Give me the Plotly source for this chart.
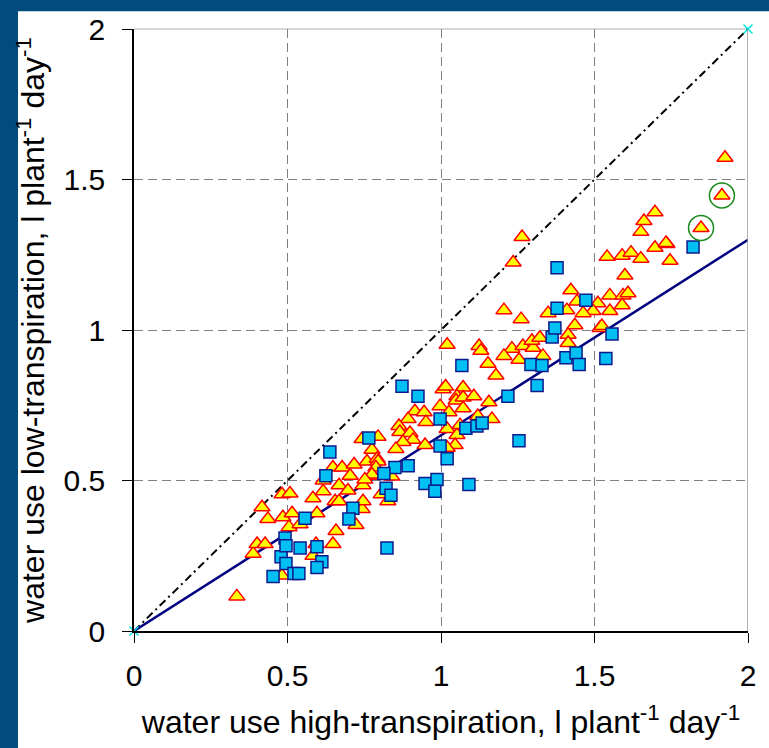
import plotly.graph_objects as go

# ---- data ----
tri_x = [0.335, 0.388, 0.401, 0.427, 0.417, 0.436, 0.482, 0.508, 0.485, 0.515, 0.505, 0.541, 0.482,
         0.583, 0.596, 0.593, 0.583, 0.616, 0.616, 0.648, 0.678, 0.717, 0.704, 0.668, 0.697, 0.655,
         0.668, 0.658, 0.648, 0.723, 0.743, 0.759, 0.775, 0.792, 0.743, 0.746, 0.778, 0.746,
         1.020, 1.124, 1.130, 1.153, 1.179, 1.231, 1.205, 1.254, 1.267, 1.300, 1.007, 1.015, 1.072,
         1.052, 1.049, 1.072, 1.107, 1.072, 0.997, 1.026, 1.156, 1.166, 1.120, 0.915, 0.945, 0.951,
         0.893, 0.863, 0.866, 0.899, 0.909, 0.876, 0.853, 0.948, 1.020, 1.052, 1.046, 1.020, 1.062,
         0.795, 0.795, 0.788, 0.775, 0.752, 0.840, 0.805, 0.827,
         1.264, 1.235, 1.205, 1.261, 1.349, 1.423, 1.410, 1.436, 1.414, 1.414, 1.332, 1.296, 1.322,
         1.511, 1.495, 1.550, 1.518, 1.541, 1.590, 1.599, 1.550, 1.593, 1.609, 1.590, 1.463, 1.443,
         1.619, 1.651, 1.697, 1.736, 1.746, 1.925, 1.915, 1.847, 1.697, 1.661, 1.651, 1.733, 1.524]
tri_y = [0.115, 0.257, 0.289, 0.289, 0.411, 0.372, 0.454, 0.457, 0.378, 0.391, 0.345, 0.355, 0.184,
         0.441, 0.391, 0.289, 0.250, 0.464, 0.500, 0.543, 0.543, 0.553, 0.516, 0.484, 0.467, 0.431,
         0.431, 0.332, 0.289, 0.352, 0.405, 0.563, 0.602, 0.572, 0.638, 0.484, 0.516, 0.431,
         0.951, 0.947, 0.931, 0.888, 0.849, 0.938, 0.914, 0.901, 0.947, 0.941, 0.803, 0.812, 0.809,
         0.780, 0.766, 0.776, 0.780, 0.740, 0.747, 0.727, 0.760, 0.704, 0.714, 0.730, 0.727, 0.694,
         0.704, 0.681, 0.661, 0.658, 0.635, 0.628, 0.605, 0.618, 0.671, 0.651, 0.618, 0.609, 0.684,
         0.645, 0.563, 0.543, 0.520, 0.503, 0.513, 0.454, 0.431,
         1.309, 1.224, 1.066, 1.036, 1.056, 1.132, 1.066, 1.016, 0.984, 0.957, 0.914, 0.964, 0.974,
         1.089, 1.063, 1.063, 1.007, 1.243, 1.247, 1.181, 1.115, 1.115, 1.122, 1.082, 1.056, 1.095,
         1.257, 1.237, 1.273, 1.286, 1.230, 1.572, 1.447, 1.339, 1.391, 1.362, 1.326, 1.289, 1.013]

sq_x = [0.453, 0.479, 0.492, 0.495, 0.495, 0.521, 0.537, 0.541, 0.596, 0.612, 0.596, 0.557, 0.638,
        0.625, 0.713, 0.700, 0.765, 0.850, 0.893, 0.814, 0.821, 0.837, 0.824, 0.873, 0.925, 0.948,
        0.987, 0.980, 0.997, 0.997, 1.020, 1.068, 1.081, 1.117, 1.134, 1.091, 1.218, 1.254, 1.293,
        1.329, 1.313, 1.362, 1.371, 1.378, 1.378, 1.407, 1.440, 1.450, 1.472, 1.537, 1.557, 1.821]
sq_y = [0.181, 0.247, 0.309, 0.283, 0.224, 0.191, 0.191, 0.276, 0.280, 0.230, 0.211, 0.375, 0.595,
        0.516, 0.408, 0.372, 0.641, 0.543, 0.549, 0.523, 0.474, 0.451, 0.276, 0.813, 0.780, 0.490,
        0.503, 0.464, 0.704, 0.615, 0.572, 0.882, 0.674, 0.681, 0.691, 0.487, 0.780, 0.632, 0.885,
        0.882, 0.816, 0.977, 1.007, 1.072, 1.207, 0.908, 0.924, 0.885, 1.099, 0.905, 0.987, 1.276]

circled_x = [1.847, 1.915]
circled_y = [1.339, 1.447]

line_x = [0, 2]
one_to_one_y = [0, 2]
reg_slope = 0.65
reg_y = [reg_slope * v for v in line_x]
end_x = [0, 2]
end_y = [0, 2]

tick_vals = [0, 0.5, 1, 1.5, 2]
tick_text = ["0", "0.5", "1", "1.5", "2"]

FONT = "Liberation Sans, Arial, sans-serif"

fig = go.Figure()
fig.add_trace(go.Scatter(x=line_x, y=one_to_one_y, mode="lines",
                         line=dict(color="black", width=2, dash="8px,4px,2px,4px"),
                         hoverinfo="skip", showlegend=False))
fig.add_trace(go.Scatter(x=line_x, y=reg_y, mode="lines",
                         line=dict(color="#000080", width=2.5),
                         hoverinfo="skip", showlegend=False))
fig.add_trace(go.Scatter(x=tri_x, y=tri_y, mode="markers",
                         marker=dict(symbol="triangle-up", size=14, color="#FFFF00",
                                     line=dict(color="#FF0000", width=1.5)),
                         showlegend=False))
fig.add_trace(go.Scatter(x=sq_x, y=sq_y, mode="markers",
                         marker=dict(symbol="square", size=12, color="#00BFF3",
                                     line=dict(color="#0B1A8C", width=1.5)),
                         showlegend=False))
fig.add_trace(go.Scatter(x=circled_x, y=circled_y, mode="markers",
                         marker=dict(symbol="circle-open", size=25, color="#1A8A1A",
                                     line=dict(width=1.5)),
                         hoverinfo="skip", showlegend=False))
fig.add_trace(go.Scatter(x=end_x, y=end_y, mode="markers", cliponaxis=False,
                         marker=dict(symbol="x-thin-open", size=9, color="#00E5E5",
                                     line=dict(width=1.5, color="#00E5E5")),
                         hoverinfo="skip", showlegend=False))

axis_common = dict(
    range=[0, 2], tickvals=tick_vals, ticktext=tick_text,
    showgrid=True, gridcolor="#7f7f7f", gridwidth=1, griddash="9px,5px",
    zeroline=False, showline=True, linecolor="black", linewidth=1.5,
    ticks="outside", ticklen=10, tickcolor="black", tickwidth=1,
    tickfont=dict(family=FONT, size=30, color="black"),
)

fig.update_layout(
    width=769, height=748,
    margin=dict(l=134, r=21, t=23, b=117),
    paper_bgcolor="#004C7F",
    plot_bgcolor="white",
    font=dict(family=FONT, color="black"),
    xaxis=dict(**axis_common, ticklabelstandoff=7,
               title=dict(text="water use high-transpiration, l plant<sup>-1</sup> day<sup>-1</sup>",
                          font=dict(family=FONT, size=32, color="black"), standoff=20)),
    yaxis=dict(**axis_common, ticklabelstandoff=11,
               title=dict(text="water use low-transpiration, l plant<sup>-1</sup> day<sup>-1</sup>",
                          font=dict(family=FONT, size=32, color="black"), standoff=9)),
    shapes=[
        dict(type="rect", xref="paper", yref="paper", x0=-0.1889, x1=1.05, y0=-0.25, y1=1.0296,
             fillcolor="white", line=dict(width=0), layer="below"),
        dict(type="line", xref="paper", yref="paper", x0=0, x1=1, y0=1, y1=1,
             line=dict(color="#c8c8c8", width=1.5), layer="below"),
        dict(type="line", xref="x", yref="paper", x0=2, x1=2, y0=0, y1=1,
             line=dict(color="#9a9a9a", width=1.5), layer="above"),
    ],
)

fig.write_html(
    "out.html",
    config={"displayModeBar": False},
    post_script="document.body.style.margin='0';document.body.style.overflow='hidden';",
)
